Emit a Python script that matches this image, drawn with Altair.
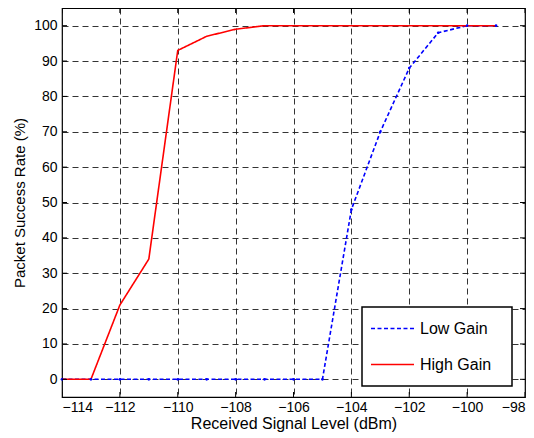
import altair as alt
import pandas as pd

signal_dbm = [-114, -113, -112, -111, -110, -109, -108, -107, -106, -105, -104, -103, -102, -101, -100, -99]
low_gain = [0, 0, 0, 0, 0, 0, 0, 0, 0, 0, 48, 70, 88, 98, 100, 100]
high_gain = [0, 0, 21, 34, 93, 97, 99, 100, 100, 100, 100, 100, 100, 100, 100, 100]
series_names = ["Low Gain", "High Gain"]
x_ticks = list(range(-114, -97, 2))
y_ticks = list(range(0, 101, 10))
x_domain = [-114, -98]
y_domain = [-5, 105]

rows = []
for name, vals in zip(series_names, [low_gain, high_gain]):
    for x, v in zip(signal_dbm, vals):
        rows.append({"signal": x, "rate": v, "series": name})
df = pd.DataFrame(rows)

# inward tick marks on all four sides (MATLAB style), clipped to the plot box
xtick_df = pd.DataFrame([{"signal": t, "rate": e} for t in x_ticks for e in y_domain])
ytick_df = pd.DataFrame([{"signal": e, "rate": t} for t in y_ticks for e in x_domain])

FONT = "Liberation Sans, Arial"
PAD = "\u2800"

x_scale = alt.Scale(domain=x_domain, nice=False, zero=False)
y_scale = alt.Scale(domain=y_domain, nice=False, zero=False)
x_enc = alt.X("signal:Q", scale=x_scale,
              axis=alt.Axis(values=x_ticks, title="Received Signal Level (dBm)", format="d",
                            titleY=31, titleBaseline="alphabetic", titleFontSize=16,
                            labelOverlap=False))
y_enc = alt.Y("rate:Q", scale=y_scale,
              axis=alt.Axis(values=y_ticks, title="Packet Success Rate (%)", format="d",
                            titleX=-38, titleBaseline="alphabetic", labelOverlap=False))

lines = alt.Chart(df).mark_line(strokeWidth=1.6).encode(
    x=x_enc,
    y=y_enc,
    color=alt.Color("series:N",
                    scale=alt.Scale(domain=series_names, range=["#0000ff", "#ff0000"]),
                    legend=alt.Legend(
                        title=None, orient="none", legendX=300, legendY=299,
                        symbolType="stroke", symbolSize=1850, symbolStrokeWidth=1.6,
                        clipHeight=27, rowPadding=9, padding=8,
                        strokeColor="black", fillColor="white",
                        labelFont=FONT, labelFontSize=16, labelColor="black",
                        labelOffset=5,
                        labelExpr="datum.label + '" + PAD + "'")),
    strokeDash=alt.StrokeDash("series:N",
                              scale=alt.Scale(domain=series_names, range=[[4, 2.5], [1, 0]]),
                              legend=None),
    order=alt.Order("signal:Q"),
)

dots = alt.Chart(df).transform_filter(alt.datum.series == "Low Gain").mark_point(
    filled=True, size=7, color="#0000ff", opacity=1
).encode(x=x_enc, y=y_enc)

xticks = alt.Chart(xtick_df).mark_tick(
    orient="vertical", size=10, thickness=1, color="black", clip=True, opacity=1
).encode(x=x_enc, y=y_enc)

yticks = alt.Chart(ytick_df).mark_tick(
    orient="horizontal", size=10, thickness=1, color="black", clip=True, opacity=1
).encode(x=x_enc, y=y_enc)

chart = alt.layer(lines, dots, xticks, yticks).properties(
    width=463, height=389,
    autosize=alt.AutoSizeParams(type="none"),
    padding={"left": 54, "top": 0, "right": 1, "bottom": 40},
).configure_view(
    stroke="black", strokeWidth=1.2
).configure_axis(
    grid=True, gridColor="#111111", gridDash=[6, 4], gridWidth=1, gridOpacity=0.85,
    domain=False, tickSize=0,
    labelFont=FONT, labelFontSize=14, labelColor="black",
    titleFont=FONT, titleFontSize=15, titleFontWeight="normal", titleColor="black",
).configure_axisX(
    labelPadding=3
).configure_axisY(
    labelPadding=5
).configure_legend(
    strokeWidth=1.5
)

chart.save("out.html", embed_options={"renderer": "svg", "actions": False})
